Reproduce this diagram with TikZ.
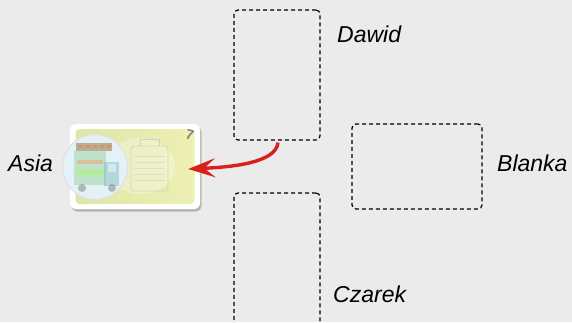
\documentclass[tikz,border=0pt]{standalone}
\usepackage{fontspec}
\setmainfont{Liberation Sans}
\usetikzlibrary{arrows.meta,shadows}

\definecolor{tabletop}{HTML}{EBEBEB}
\definecolor{passred}{HTML}{D8201C}
\definecolor{faceleft}{HTML}{DDE6A8}
\definecolor{faceright}{HTML}{EEF0B2}
\definecolor{badgeblue}{HTML}{E4F1F7}

\begin{document}
\begin{tikzpicture}[x=1pt,y=-1pt,
    slot/.style={draw, dash pattern=on 4pt off 3pt, line width=1.2pt,
      rounded corners=4pt, inner sep=0pt},
    player/.style={font=\fontsize{23}{27}\selectfont\itshape,
      anchor=base west, inner sep=0pt},
    pass/.style={draw=passred, line width=3.4pt,
      -{Stealth[length=27pt,width=19pt,inset=11pt]}},
    ghost/.style={draw=black!25, line width=0.8pt, opacity=0.6}]

  % table
  \path[use as bounding box, fill=tabletop] (0,0) rectangle (572,322);

  % empty places
  \node[slot, minimum width=86pt, minimum height=130pt] (dawid) at (277,75) {};
  \node[slot, minimum width=130pt, minimum height=85pt] (blanka) at (417,166.5) {};
  \node[slot, minimum width=86pt, minimum height=137pt] (czarek) at (277,261.5) {};

  % Asia's card
  \node[fill=white, rounded corners=6pt, minimum width=130pt, minimum height=85pt,
    drop shadow={shadow xshift=1.5pt, shadow yshift=-2.5pt, opacity=0.5}]
    (asiacard) at (135,166.5) {};
  \node[rounded corners=4pt, minimum width=119pt, minimum height=75pt,
    left color=faceleft, right color=faceright] (face) at (asiacard.center) {};
  \fill[white, opacity=0.3] (140,166) ellipse (35 and 28);
  % suitcase
  \draw[ghost, rounded corners=3pt] (131,146) rectangle (168,191);
  \draw[ghost] (140,146) -- (140,139) -- (159,139) -- (159,146);
  \foreach \y in {156,162,168,174,180}
    \draw[ghost, black!18] (134,\y) -- (165,\y);
  \node[text=black!50, font=\fontsize{14}{14}\selectfont\bfseries, rotate=-15]
    (rank) at (190,135) {7};

  % truck badge
  \node[circle, minimum size=65pt, fill=badgeblue, draw=black!12, line width=1pt]
    (badge) at (95,167) {};
  \begin{scope}[opacity=0.45]
    \fill[brown!70!black] (76,143) rectangle (112,151);
    \foreach \x in {79,86,93,100,107}
      \fill[orange] (\x,145) rectangle ++(4,3);
    \fill[gray!60!green!60] (74,151) rectangle (106,185);
    \fill[green!50!yellow!70] (77,170) rectangle (103,175);
    \fill[red!40!orange!60] (77,160) rectangle (103,164);
    \fill[teal!55] (104,162) rectangle (119,186);
    \fill[white] (108,164) rectangle (116,172);
    \fill[black!55] (82,188) circle (4) (112,188) circle (4);
  \end{scope}

  % names
  \node[player] (asia) at (8,171) {Asia};
  \node[player] (dawidname) at (337,42) {Dawid};
  \node[player] (blankaname) at (497,171) {Blanka};
  \node[player] (czarekname) at (333,302) {Czarek};

  % passing the card
  \draw[pass] ([xshift=1pt,yshift=-2pt]dawid.south)
    .. controls +(-2,20) and +(45,-2) .. ([xshift=-12pt,yshift=-2.5pt]asiacard.east);
\end{tikzpicture}
\end{document}
